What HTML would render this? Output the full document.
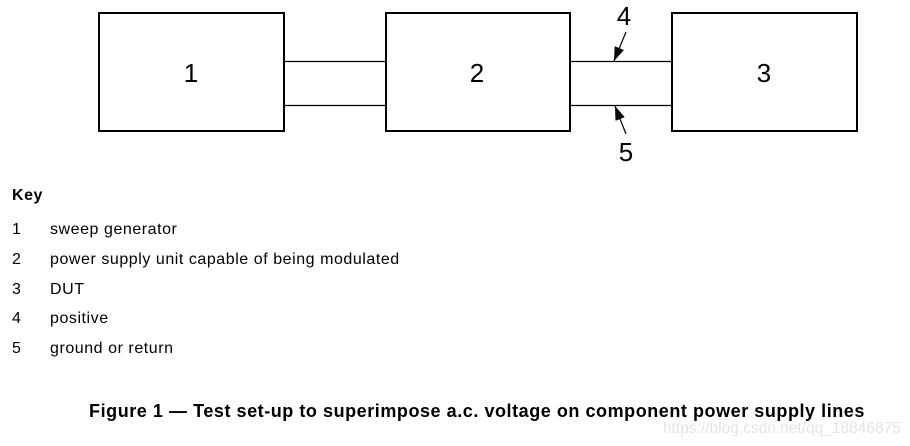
<!DOCTYPE html>
<html><head><style>
body{margin:0;width:910px;height:446px;background:#fff;position:relative;font-family:"Liberation Sans",Arial,sans-serif;color:#000;overflow:hidden}
.t{position:absolute;font-size:16px;line-height:18px;white-space:nowrap;letter-spacing:0.55px}
</style></head><body>
<svg width="910" height="446" style="position:absolute;left:0;top:0">
<defs><marker id="a" viewBox="0 0 14 10" refX="14" refY="5" markerWidth="14" markerHeight="10" markerUnits="userSpaceOnUse" orient="auto"><path d="M0,0 L14,5 L0,10 z" fill="#000"/></marker></defs>
<g fill="none" stroke="#000" stroke-width="2">
<rect x="99" y="13" width="185" height="118"/>
<rect x="386" y="13" width="184" height="118"/>
<rect x="672" y="13" width="185" height="118"/>
</g>
<g stroke="#000" stroke-width="1.2">
<line x1="284" y1="61.5" x2="386" y2="61.5"/><line x1="284" y1="105.5" x2="386" y2="105.5"/>
<line x1="570" y1="61.5" x2="672" y2="61.5"/><line x1="570" y1="105.5" x2="672" y2="105.5"/>
<line x1="626" y1="32" x2="614" y2="61" marker-end="url(#a)"/>
<line x1="626" y1="134" x2="615" y2="106" marker-end="url(#a)"/>
</g>
<g font-family="Liberation Sans,Arial,sans-serif" font-size="26" text-anchor="middle">
<text x="191" y="82">1</text><text x="477" y="82">2</text><text x="764" y="82">3</text>
<text x="624" y="25">4</text><text x="626" y="161">5</text>
</g>
</svg>
<div class="t" style="left:12px;top:187px;font-weight:bold">Key</div>
<div class="t" style="left:12px;top:221px">1</div><div class="t" style="left:50px;top:221px">sweep generator</div>
<div class="t" style="left:12px;top:251px">2</div><div class="t" style="left:50px;top:251px">power supply unit capable of being modulated</div>
<div class="t" style="left:12px;top:281px">3</div><div class="t" style="left:50px;top:281px">DUT</div>
<div class="t" style="left:12px;top:310px">4</div><div class="t" style="left:50px;top:310px">positive</div>
<div class="t" style="left:12px;top:340px">5</div><div class="t" style="left:50px;top:340px">ground or return</div>
<div class="t" style="left:0;width:954px;text-align:center;top:401px;font-size:18px;line-height:20px;font-weight:bold;letter-spacing:0.55px">Figure 1 — Test set-up to superimpose a.c. voltage on component power supply lines</div>
<div class="t" style="left:663px;top:420px;font-size:15.5px;letter-spacing:0;color:#e4e4e4">https://blog.csdn.net/qq_18846875</div>
</body></html>
